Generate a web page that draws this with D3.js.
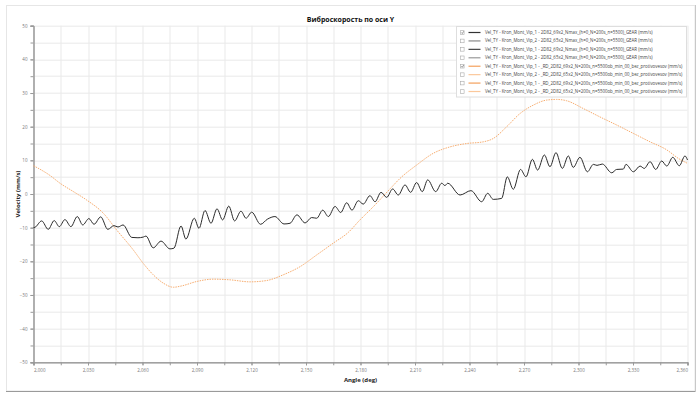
<!DOCTYPE html>
<html>
<head>
<meta charset="utf-8">
<script src="https://cdn.jsdelivr.net/npm/d3@7"></script>
<style>
body{margin:0;background:#fff;font-family:"Open Sans",sans-serif}
</style>
</head>
<body>
<div id="canvas"></div>
<script>
// black curve (angle deg, velocity mm/s)
const blackAngle = [2000,2000.8,2004.5,2008.1,2011.4,2014.2,2017.3,2020.6,2024.1,2027.1,2030.5,2033.3,2037.0,2040.9,2044.3,2046.5,2049.3,2054.1,2057.5,2060.4,2061.9,2065.9,2070.2,2075.1,2077.3,2081.2,2083.9,2088.5,2091.1,2094.4,2097.7,2101.0,2104.1,2107.5,2110.7,2114.2,2117.0,2120.1,2125.0,2128.7,2132.9,2137.9,2141.2,2145.0,2149.5,2153.1,2155.9,2159.2,2162.3,2166.0,2169.1,2172.4,2175.3,2178.8,2181.5,2185.2,2188.0,2191.3,2194.4,2197.7,2200.8,2204.5,2207.6,2210.9,2214.0,2217.0,2221.4,2224.7,2226.5,2228.0,2234.8,2240.8,2246.7,2250.0,2253.1,2257.7,2260.8,2264.1,2268.1,2271.1,2274.6,2277.5,2281.2,2284.3,2287.6,2291.1,2294.4,2297.1,2300.8,2304.9,2308.2,2310.2,2313.1,2318.3,2321.0,2324.7,2326.1,2330.2,2333.9,2336.2,2339.4,2342.5,2345.8,2348.6,2351.9,2355.5,2358.6,2360]
const blackVel = [-10.0,-9.9,-8.0,-10.5,-7.9,-9.7,-7.6,-9.7,-6.7,-9.2,-7.3,-9.0,-6.8,-10.5,-9.4,-9.8,-9.2,-12.9,-13.0,-12.8,-12.5,-16.0,-14.0,-16.3,-16.1,-9.5,-13.4,-7.2,-10.2,-4.9,-8.7,-4.4,-7.7,-3.6,-8.0,-5.1,-7.2,-5.4,-9.0,-7.5,-6.7,-8.9,-8.7,-6.2,-8.6,-7.0,-7.2,-4.8,-6.7,-3.7,-5.5,-2.6,-4.8,-2.0,-3.0,-0.5,-2.3,0.5,-1.0,1.5,-0.3,2.7,0.5,3.4,0.7,4.2,0.7,3.2,2.5,3.2,-0.3,1.0,-2.3,0.2,-1.6,-1.3,5.1,1.4,7.3,5.1,10.3,7.1,11.6,8.1,12.3,7.6,11.3,7.9,10.9,6.6,8.8,8.5,8.9,6.3,7.3,7.4,8.8,6.6,8.3,7.6,9.6,7.3,9.8,8.3,10.9,8.4,11.3,10.1]

// orange curve
const orangeAngle = [2000,2009.1,2014.6,2021.7,2029.3,2038.4,2045.8,2054.9,2060.4,2065.9,2071.5,2077.0,2081.6,2089.8,2099.0,2108.2,2119.2,2128.4,2137.5,2146.7,2155.9,2165.0,2173.3,2179.7,2187.0,2196.2,2201.7,2210.9,2220.1,2229.3,2238.5,2247.6,2253.1,2260.5,2267.8,2275.1,2282.5,2288.0,2293.5,2302.6,2311.8,2321.0,2330.2,2339.4,2348.6,2354.9,2360]
const orangeVel = [8.4,5.5,3.2,0.8,-1.8,-5.7,-10.7,-16.6,-20.6,-24.0,-26.5,-27.7,-27.3,-26.0,-25.3,-25.5,-26.1,-25.7,-24.0,-21.6,-18.1,-14.6,-11.4,-7.7,-3.8,1.5,4.6,8.6,12.1,14.0,15.0,15.5,16.5,20.0,23.9,26.4,27.9,28.1,27.7,25.4,22.9,20.5,18.0,15.5,13.1,10.6,9.1]

const xTicks = [2000,2030,2060,2090,2120,2150,2180,2210,2240,2270,2300,2330,2360]
const yTicks = [-50,-40,-30,-20,-10,0,10,20,30,40,50]

const legendNames = [
  "Vel_TY - Kron_Mont_Vip_1 - 2D82_69x2_Nmax_(h=0_N=200s_n=5500)_GEAR (mm/s)",
  "Vel_TY - Kron_Mont_Vip_2 - 2D82_65x2_Nmax_(h=0_N=200s_n=5500)_GEAR (mm/s)",
  "Vel_TY - Kron_Mont_Vip_1 - 2D82_69x2_Nmax_(h=0_N=200s_n=5500)_GEAR (mm/s)",
  "Vel_TY - Kron_Mont_Vip_2 - 2D82_65x2_Nmax_(h=0_N=200s_n=5500)_GEAR (mm/s)",
  "Vel_TY - Kron_Mont_Vip_1 - _RD_2D82_69x2_N=200s_n=5500ob_min_00_bez_protivovesov (mm/s)",
  "Vel_TY - Kron_Mont_Vip_2 - _RD_2D82_65x2_N=200s_n=5500ob_min_00_bez_protivovesov (mm/s)",
  "Vel_TY - Kron_Mont_Vip_1 - _RD_2D82_69x2_N=200s_n=5500ob_min_00_bez_protivovesov (mm/s)",
  "Vel_TY - Kron_Mont_Vip_2 - _RD_2D82_65x2_N=200s_n=5500ob_min_00_bez_protivovesov (mm/s)"
]
const legendColors = ["#333","#8a8a8a","#444","#999","#f4a05c","#fbc89b","#f4a05c","#fbc89b"]
const legendChecked = [true,false,false,false,true,false,false,false]

const width = 700
const height = 397
const margin = {top:25.7, left:33.5, bottom:34.7, right:12.5}
const iwidth = width - margin.left - margin.right
const iheight = height - margin.top - margin.bottom

const svg = d3.select("#canvas").append("svg")
  .attr("width", width)
  .attr("height", height)

// panel frame
svg.append("rect").attr("x",6.5).attr("y",5.5).attr("width",688.5).attr("height",385.5)
  .style("fill","#fff").style("stroke","#e6e6e6")
svg.append("line").attr("x1",6).attr("x2",696).attr("y1",391.5).attr("y2",391.5).style("stroke","#9a9a9a")
svg.append("line").attr("x1",695.5).attr("x2",695.5).attr("y1",5).attr("y2",392).style("stroke","#c8c8c8")

const g = svg.append("g").attr("transform", `translate(${margin.left},${margin.top})`)

const x = d3.scaleLinear().domain([2000,2360]).range([0,iwidth])
const y = d3.scaleLinear().domain([-50,50]).range([iheight,0])

const xMinor = d3.range(2000, 2361, 15)
const yMinor = d3.range(-50, 51, 5)

// grid
g.append("g").selectAll("line").data(xMinor).enter().append("line")
  .attr("x1",d=>Math.round(x(d))+0.5).attr("x2",d=>Math.round(x(d))+0.5)
  .attr("y1",0).attr("y2",iheight).style("stroke","#e9e9e9")
g.append("g").selectAll("line").data(yMinor).enter().append("line")
  .attr("y1",d=>Math.round(y(d))+0.5).attr("y2",d=>Math.round(y(d))+0.5)
  .attr("x1",0).attr("x2",iwidth).style("stroke","#e9e9e9")

// minor ticks
g.append("g").call(d3.axisBottom(x).tickValues(xMinor).tickSize(3).tickFormat(""))
  .attr("transform",`translate(0,${iheight})`)
  .call(a=>a.selectAll("line,path").style("stroke","#999"))
g.append("g").call(d3.axisLeft(y).tickValues(yMinor).tickSize(3).tickFormat(""))
  .call(a=>a.selectAll("line,path").style("stroke","#999"))

// axes
const xAxis = g.append("g")
  .classed("x--axis",true)
  .attr("transform",`translate(0,${iheight})`)
  .call(d3.axisBottom(x).tickValues(xTicks).tickFormat(d3.format(",")).tickSize(3).tickPadding(4))
xAxis.selectAll("line,path").style("stroke","#999")
xAxis.selectAll("text").style("font-size","4.5px").style("fill","#777").style("font-family","Open Sans")
xAxis.selectAll("text").filter(d=>d===2000).attr("text-anchor","start")
xAxis.selectAll("text").filter(d=>d===2360).attr("text-anchor","end")

const yAxis = g.append("g")
  .classed("y--axis",true)
  .call(d3.axisLeft(y).tickValues(yTicks).tickSize(3).tickPadding(3))
yAxis.selectAll("line,path").style("stroke","#999")
yAxis.selectAll("text").style("font-size","4.5px").style("fill","#777").style("font-family","Open Sans")

// series
const line = d3.line().curve(d3.curveMonotoneX)
g.append("path")
  .datum(orangeAngle.map((a,i)=>[x(a),y(orangeVel[i])]))
  .attr("d",line)
  .style("fill","none").style("stroke","#f7ad70").style("stroke-width",1)
  .style("stroke-dasharray","1.5,1")
g.append("path")
  .datum(blackAngle.map((a,i)=>[x(a),y(blackVel[i])]))
  .attr("d",line)
  .style("fill","none").style("stroke","#2b2b2b").style("stroke-width",1)

// titles
svg.append("text").attr("x",350.5).attr("y",21.5).attr("text-anchor","middle")
  .style("font-size","7px").style("font-weight","bold").style("fill","#111")
  .text("Виброскорость по оси Y")
svg.append("text").attr("x",margin.left+iwidth/2).attr("y",381.5).attr("text-anchor","middle")
  .style("font-size","6px").style("font-weight","bold").style("fill","#222")
  .text("Angle (deg)")
svg.append("text").attr("transform",`translate(20,${margin.top+iheight/2}) rotate(-90)`)
  .attr("text-anchor","middle")
  .style("font-size","6px").style("font-weight","bold").style("fill","#222")
  .text("Velocity (mm/s)")

// legend
const lg = svg.append("g").attr("transform","translate(456.5,26.5)")
lg.append("rect").attr("width",230).attr("height",70.5)
  .style("fill","#fff").style("stroke","#dedede")
const rows = lg.selectAll("g.row").data(legendNames).enter().append("g")
  .attr("class","row")
  .attr("transform",(d,i)=>`translate(0,${6+i*8.43})`)
rows.append("rect").attr("x",4).attr("y",-1.8).attr("width",3.6).attr("height",3.6)
  .style("fill","#fff").style("stroke","#aaa").style("stroke-width",0.6)
rows.filter((d,i)=>legendChecked[i]).append("path")
  .attr("d","M4.8,0 L5.8,1 L7.2,-1.2").style("fill","none").style("stroke","#555").style("stroke-width",0.6)
rows.append("line").attr("x1",12).attr("x2",24).attr("y1",0).attr("y2",0)
  .style("stroke",(d,i)=>legendColors[i]).style("stroke-width",1.2)
rows.append("text").attr("x",28.5).attr("y",1.5)
  .style("font-size","4.4px").style("fill","#444")
  .text(d=>d)
</script>
</body>
</html>
